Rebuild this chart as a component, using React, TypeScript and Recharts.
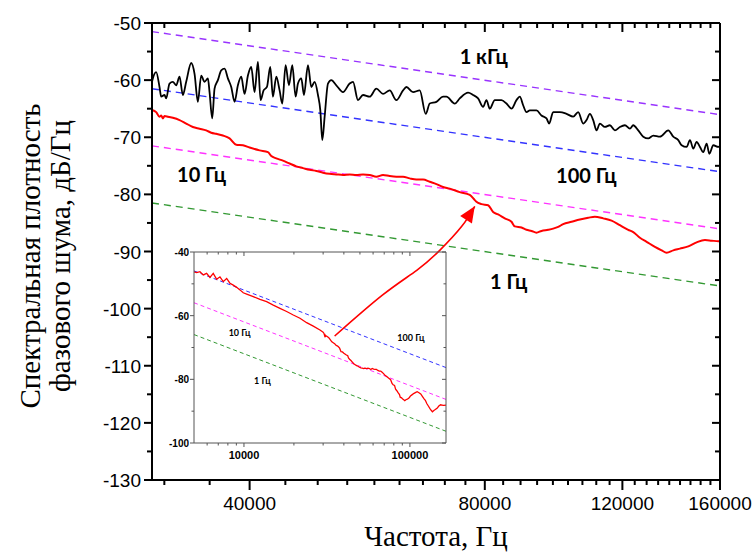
import React from 'react';
import { LineChart, Line, XAxis, YAxis, ReferenceDot, Label } from 'recharts';

type Pt = [number, number];

// ---------- tick values ----------
const mainXMajor = [40000, 80000, 120000, 160000];
const mainXMinor = [31111, 35556, 44444, 48889, 53333, 57778, 62222, 66667, 71111, 75556, 84444, 88889, 93333, 97778, 102222, 106667, 111111, 115556, 124444, 128889, 133333, 137778, 142222, 146667, 151111, 155556];
const mainYMajor = [-130, -120, -110, -100, -90, -80, -70, -60, -50];
const mainYMinor = [-125, -115, -105, -95, -85, -75, -65, -55];
const insetXMajor = [10000, 100000];
const insetXMinor = [6000, 7000, 8000, 9000, 20000, 30000, 40000, 50000, 60000, 70000, 80000, 90000];
const insetYMajor = [-100, -80, -60, -40];
const insetYMinor = [-90, -70, -50];

// ---------- measured phase-noise (black, 1 kHz region) ----------
const blackNoise: Pt[] = [
  [30000, -60.3], [30074, -59.7], [30371, -58.6], [30671, -61.2], [30823, -62.9], [31127, -62.6], [31281, -63.2],
  [31589, -60.6], [31901, -60.3], [32217, -60.9], [32535, -59.4], [32856, -62.6], [33181, -60.3], [33674, -57.0],
  [34007, -58.9], [34342, -63.8], [34682, -59.2], [35025, -60.3], [35371, -59.7], [35545, -62.1], [35826, -66.7],
  [36073, -61.5], [36429, -60.0], [36790, -58.3], [37153, -58.0], [37520, -59.7], [37891, -61.2], [38265, -63.8],
  [38643, -60.9], [39026, -59.4], [39411, -62.4], [39800, -59.2], [40194, -57.7], [40590, -62.1], [40991, -56.8],
  [41315, -63.5], [41682, -61.8], [42094, -61.2], [42510, -57.7], [42845, -62.9], [43270, -59.4], [43697, -61.8],
  [44042, -64.1], [44477, -57.4], [44916, -60.9], [45361, -57.4], [45809, -62.9], [46124, -60.6], [46581, -59.7],
  [46948, -62.6], [47505, -57.4], [47975, -61.2], [48449, -60.3], [48927, -62.6], [49266, -65.3], [49558, -70.5],
  [49900, -66.4], [50392, -60.6], [50891, -60.0], [51647, -60.9], [52672, -62.1], [53718, -60.6], [54248, -60.3],
  [55055, -63.5], [55872, -62.6], [56983, -62.9], [58115, -61.5], [59268, -62.4], [60445, -61.8], [61646, -63.5],
  [62869, -61.8], [63492, -61.2], [64752, -62.1], [66038, -61.8], [67217, -65.9], [68015, -64.1], [69366, -63.8],
  [70742, -62.9], [71442, -62.9], [73219, -64.1], [74307, -63.2], [76155, -62.2], [77287, -62.6], [78435, -63.2],
  [79600, -64.7], [80389, -63.5], [81183, -65.0], [82388, -63.5], [84025, -63.5], [85274, -64.1], [86541, -65.0],
  [87827, -63.5], [88693, -62.9], [89569, -64.4], [90455, -65.6], [91348, -65.3], [93163, -65.3], [94547, -66.2],
  [95952, -66.7], [96708, -67.6], [97856, -65.6], [99800, -65.6], [101783, -65.9], [103801, -66.4], [105344, -65.6],
  [106910, -67.6], [107967, -67.0], [109033, -65.9], [110109, -67.0], [111200, -68.8], [112297, -67.6], [113966, -68.2],
  [115659, -67.9], [117377, -68.8], [119121, -68.2], [120891, -67.9], [122688, -68.5], [123898, -67.9], [125740, -68.8],
  [127608, -69.9], [129505, -70.2], [131428, -69.7], [134040, -69.9], [137375, -68.8], [139415, -69.9], [141487, -70.5],
  [142888, -71.4], [145011, -71.7], [146443, -70.5], [147888, -72.0], [149353, -70.8], [150827, -71.7], [152315, -72.6],
  [153824, -71.1], [155036, -72.9], [156875, -71.4], [159207, -71.7], [160000, -71.6],
];

// ---------- measured phase-noise (red) ----------
const redNoise: Pt[] = [
  [30000, -65.2], [30371, -65.6], [30671, -66.4], [30823, -66.2], [30974, -66.7], [31127, -66.3], [31434, -66.4],
  [31901, -66.6], [32535, -67.0], [33181, -67.6], [33839, -68.2], [34512, -68.5], [35198, -68.8], [35721, -69.2],
  [36251, -69.4], [36971, -69.7], [37706, -70.2], [38454, -71.3], [39217, -71.4], [40000, -71.8], [41193, -72.3],
  [42218, -72.6], [42636, -73.3], [43270, -73.7], [44128, -74.1], [45005, -74.6], [45899, -75.1], [46810, -75.4],
  [47740, -75.7], [48688, -75.9], [49655, -76.2], [50641, -76.4], [51647, -76.5], [52672, -76.6], [53718, -76.5],
  [54785, -76.6], [55872, -76.5], [56983, -76.6], [58115, -76.9], [59268, -76.6], [60445, -76.8], [61646, -76.9],
  [62869, -76.9], [64118, -77.2], [65392, -77.4], [66690, -77.4], [68015, -77.8], [69366, -78.2], [70742, -78.7],
  [72148, -79.0], [74307, -79.6], [76531, -80.1], [77669, -81.0], [78053, -81.3], [79212, -81.7], [80784, -81.9],
  [81983, -83.1], [83202, -83.5], [84854, -84.2], [86541, -84.8], [87395, -85.6], [89131, -85.8], [90455, -86.2],
  [91799, -86.4], [93163, -86.7], [94547, -86.4], [96423, -86.2], [97856, -86.0], [99310, -85.7], [100786, -85.2],
  [103295, -84.8], [105865, -84.4], [108497, -84.1], [110654, -83.9], [113407, -84.2], [116231, -84.6], [119121, -85.4],
  [122084, -86.2], [123898, -86.6], [126360, -87.6], [128870, -88.3], [132077, -89.2], [134701, -89.8], [136703, -90.2],
  [139415, -89.8], [142184, -89.5], [145721, -89.1], [149353, -88.4], [153070, -88.0], [156110, -88.1], [159207, -88.2],
  [160000, -88.2],
];

// low-frequency part of the red curve (inset only)
const redLow: Pt[] = [
  [5000, -46.2], [5188, -46.5], [5431, -46.2], [5685, -47.2], [5958, -46.7], [6239, -48.0], [6531, -46.7],
  [6847, -48.6], [7168, -47.8], [7503, -49.3], [7867, -48.3], [8234, -49.8], [8620, -50.4], [9037, -51.1],
  [9460, -51.9], [9903, -52.8], [10382, -53.2], [11376, -54.0], [12487, -54.9], [13700, -55.6], [15017, -56.7],
  [16479, -57.7], [18083, -58.7], [19824, -59.8], [21748, -60.8], [23867, -62.2], [26162, -63.3], [28708, -64.5],
];
const redTail: Pt[] = [[165000, -88.1]];

// ---------- reference noise levels (dashed) ----------
const level1kHz: Pt[] = [[30000, -51.5], [160000, -66.04]];
const level100Hz: Pt[] = [[30000, -61.5], [160000, -76.04]];
const level10Hz: Pt[] = [[30000, -71.5], [160000, -86.04]];
const level1Hz: Pt[] = [[30000, -81.5], [160000, -96.04]];
const insetLevel100Hz: Pt[] = [[5000, -45.94], [165000, -76.31]];
const insetLevel10Hz: Pt[] = [[5000, -55.94], [165000, -86.31]];
const insetLevel1Hz: Pt[] = [[5000, -65.94], [165000, -96.31]];

// arrow from inset to the main red curve (data coordinates of main chart)
const arrowPath: Pt[] = [[51395, -104.8], [59210, -97.6], [65456, -93.3], [70050, -89.8], [74746, -85.6], [77669, -82.1]];

// annotation labels [freq, level, text]
const mainNotes: [number, number, string][] = [
  [79758, -57.1, '1 кГц'], [107914, -78.0, '100 Гц'], [34716, -77.8, '10 Гц'], [85861, -96.5, '1 Гц'],
];
const insetNotes: [number, number, string][] = [
  [9421, -66.4, '10 Гц'], [101468, -67.9, '100 Гц'], [12925, -81.6, '1 Гц'],
];

const rows = (pts: Pt[]) => pts.map(([f, v]) => ({ f, v }));

const SANS = '"Liberation Sans", Arial, sans-serif';
const SERIF = '"Liberation Serif", "Times New Roman", serif';
const NOTE = 'Lato, "Open Sans", sans-serif';

const COL = {
  purple: '#9933ff',
  blue: '#3333ff',
  magenta: '#ff33ff',
  green: '#339933',
  red: '#ff0000',
};

// ---------- main axis ticks ----------
const MainBottomTick = (props: any) => {
  const { x, y, payload } = props;
  const major = mainXMajor.includes(payload.value);
  return (
    <g>
      <line x1={x} x2={x} y1={y} y2={y + (major ? 10 : 5)} stroke="#000" strokeWidth={2} />
      {major && (
        <text x={x} y={y + 30} textAnchor="middle" fontFamily={SANS} fontSize={19} fill="#000">
          {String(payload.value)}
        </text>
      )}
    </g>
  );
};
const MainTopTick = (props: any) => {
  const { x, y, payload } = props;
  const major = mainXMajor.includes(payload.value);
  return <line x1={x} x2={x} y1={y} y2={y + (major ? 9 : 5)} stroke="#000" strokeWidth={2} />;
};
const MainLeftTick = (props: any) => {
  const { x, y, payload } = props;
  const major = mainYMajor.includes(payload.value);
  return (
    <g>
      <line x1={x} x2={x - (major ? 8 : 5)} y1={y} y2={y} stroke="#000" strokeWidth={2} />
      {major && (
        <text x={x - 11} y={y + 7} textAnchor="end" fontFamily={SANS} fontSize={19} fill="#000">
          {String(payload.value)}
        </text>
      )}
    </g>
  );
};
const MainRightTick = (props: any) => {
  const { x, y, payload } = props;
  const major = mainYMajor.includes(payload.value);
  return <line x1={x} x2={x - (major ? 8 : 5)} y1={y} y2={y} stroke="#000" strokeWidth={2} />;
};

// ---------- inset axis ticks ----------
const IC = '#555555';
const InsetBottomTick = (props: any) => {
  const { x, y, payload } = props;
  const major = insetXMajor.includes(payload.value);
  return (
    <g>
      <line x1={x} x2={x} y1={y} y2={y + (major ? 4 : 2.5)} stroke={IC} strokeWidth={1} />
      {major && (
        <text x={x} y={y + 16} textAnchor="middle" fontFamily={SANS} fontWeight="bold" fontSize={11} fill="#000">
          {String(payload.value)}
        </text>
      )}
    </g>
  );
};
const InsetTopTick = (props: any) => {
  const { x, y, payload } = props;
  const major = insetXMajor.includes(payload.value);
  return <line x1={x} x2={x} y1={y} y2={y + (major ? 4 : 2.5)} stroke={IC} strokeWidth={1} />;
};
const InsetLeftTick = (props: any) => {
  const { x, y, payload } = props;
  const major = insetYMajor.includes(payload.value);
  return (
    <g>
      <line x1={x} x2={x - (major ? 4 : 2.5)} y1={y} y2={y} stroke={IC} strokeWidth={1} />
      {major && (
        <text x={x - 5} y={y + 4} textAnchor="end" fontFamily={SANS} fontWeight="bold" fontSize={10} fill="#000">
          {String(payload.value)}
        </text>
      )}
    </g>
  );
};
const InsetRightTick = (props: any) => {
  const { x, y, payload } = props;
  const major = insetYMajor.includes(payload.value);
  return <line x1={x} x2={x - (major ? 4 : 2.5)} y1={y} y2={y} stroke={IC} strokeWidth={1} />;
};

const ArrowHead = (props: any) => {
  const { cx, cy, index, points } = props;
  const last = arrowPath.length - 1;
  if (index !== last || cx == null || cy == null) return <g key={`ah-${index}`} />;
  let ang = (-60 * Math.PI) / 180;
  if (points && points[last - 1] && points[last - 1].x != null) {
    const p = points[last - 1];
    ang = Math.atan2(cy - p.y, cx - p.x);
  }
  const len = 16;
  const half = 7;
  const bx = cx - len * Math.cos(ang);
  const by = cy - len * Math.sin(ang);
  const nx = -Math.sin(ang);
  const ny = Math.cos(ang);
  return (
    <polygon
      key={`ah-${index}`}
      points={`${cx},${cy} ${bx + half * nx},${by + half * ny} ${bx - half * nx},${by - half * ny}`}
      fill={COL.red}
    />
  );
};

const noteShape = (text: string, size: number) => (p: any) => (
  <text x={p.cx} y={p.cy} textAnchor="middle" fontFamily={NOTE} fontWeight="bold" fontSize={size} fill="#000">
    {text}
  </text>
);

const MainChart = () => (
  <LineChart width={753} height={553} margin={{ top: 0, right: 0, bottom: 0, left: 0 }}>
    <XAxis
      xAxisId="b"
      type="number"
      dataKey="f"
      scale="log"
      domain={[30000, 160000]}
      allowDataOverflow
      ticks={[...mainXMajor, ...mainXMinor]}
      interval={0}
      tickSize={0}
      tickMargin={0}
      tickLine={false}
      height={73}
      axisLine={{ stroke: '#000', strokeWidth: 2 }}
      tick={<MainBottomTick />}
    >
      <Label
        content={() => (
          <text x={436} y={546} textAnchor="middle" fontFamily={SERIF} fontSize={29} fill="#000">
            Частота, Гц
          </text>
        )}
      />
    </XAxis>
    <XAxis
      xAxisId="t"
      orientation="top"
      type="number"
      dataKey="f"
      scale="log"
      domain={[30000, 160000]}
      allowDataOverflow
      ticks={[...mainXMajor, ...mainXMinor]}
      interval={0}
      tickSize={0}
      tickMargin={0}
      tickLine={false}
      height={23}
      axisLine={{ stroke: '#000', strokeWidth: 2 }}
      tick={<MainTopTick />}
    />
    <YAxis
      yAxisId="l"
      type="number"
      domain={[-130, -50]}
      allowDataOverflow
      ticks={[...mainYMajor, ...mainYMinor]}
      interval={0}
      tickSize={0}
      tickMargin={0}
      tickLine={false}
      width={152}
      axisLine={{ stroke: '#000', strokeWidth: 2 }}
      tick={<MainLeftTick />}
    >
      <Label
        content={() => (
          <g>
            <text transform="translate(40,256) rotate(-90)" textAnchor="middle" fontFamily={SERIF} fontSize={29} fill="#000">
              Спектральная плотность
            </text>
            <text transform="translate(70,256) rotate(-90)" textAnchor="middle" fontFamily={SERIF} fontSize={29} fill="#000">
              фазового шума, дБ/Гц
            </text>
          </g>
        )}
      />
    </YAxis>
    <YAxis
      yAxisId="r"
      orientation="right"
      type="number"
      domain={[-130, -50]}
      allowDataOverflow
      ticks={[...mainYMajor, ...mainYMinor]}
      interval={0}
      tickSize={0}
      tickMargin={0}
      tickLine={false}
      width={33}
      axisLine={{ stroke: '#000', strokeWidth: 2 }}
      tick={<MainRightTick />}
    />
    <Line xAxisId="b" yAxisId="l" data={rows(level1kHz)} dataKey="v" stroke={COL.purple} strokeWidth={1.4} strokeDasharray="7 5" dot={false} isAnimationActive={false} />
    <Line xAxisId="b" yAxisId="l" data={rows(level100Hz)} dataKey="v" stroke={COL.blue} strokeWidth={1.4} strokeDasharray="7 5" dot={false} isAnimationActive={false} />
    <Line xAxisId="b" yAxisId="l" data={rows(level10Hz)} dataKey="v" stroke={COL.magenta} strokeWidth={1.4} strokeDasharray="7 5" dot={false} isAnimationActive={false} />
    <Line xAxisId="b" yAxisId="l" data={rows(level1Hz)} dataKey="v" stroke={COL.green} strokeWidth={1.4} strokeDasharray="7 5" dot={false} isAnimationActive={false} />
    <Line xAxisId="b" yAxisId="l" data={rows(blackNoise)} dataKey="v" stroke="#000" strokeWidth={1.8} dot={false} type="monotone" isAnimationActive={false} />
    <Line xAxisId="b" yAxisId="l" data={rows(redNoise)} dataKey="v" stroke={COL.red} strokeWidth={2} dot={false} type="monotone" isAnimationActive={false} />
    <Line xAxisId="b" yAxisId="l" data={rows(arrowPath)} dataKey="v" stroke={COL.red} strokeWidth={1.6} type="natural" dot={ArrowHead} activeDot={false} isAnimationActive={false} />
    {mainNotes.map(([f, v, t]) => (
      <ReferenceDot key={t} xAxisId="b" yAxisId="l" x={f} y={v} r={0} shape={noteShape(t, 20)} />
    ))}
  </LineChart>
);

const InsetChart = () => (
  <LineChart width={310} height={235} margin={{ top: 0, right: 0, bottom: 0, left: 0 }}>
    <XAxis
      xAxisId="b"
      type="number"
      dataKey="f"
      scale="log"
      domain={[5000, 165000]}
      allowDataOverflow
      ticks={[...insetXMajor, ...insetXMinor]}
      interval={0}
      tickSize={0}
      tickMargin={0}
      tickLine={false}
      height={32}
      axisLine={{ stroke: IC, strokeWidth: 1 }}
      tick={<InsetBottomTick />}
    />
    <XAxis
      xAxisId="t"
      orientation="top"
      type="number"
      dataKey="f"
      scale="log"
      domain={[5000, 165000]}
      allowDataOverflow
      ticks={[...insetXMajor, ...insetXMinor]}
      interval={0}
      tickSize={0}
      tickMargin={0}
      tickLine={false}
      height={12}
      axisLine={{ stroke: IC, strokeWidth: 1 }}
      tick={<InsetTopTick />}
    />
    <YAxis
      yAxisId="l"
      type="number"
      domain={[-100, -40]}
      allowDataOverflow
      ticks={[...insetYMajor, ...insetYMinor]}
      interval={0}
      tickSize={0}
      tickMargin={0}
      tickLine={false}
      width={44}
      axisLine={{ stroke: IC, strokeWidth: 1 }}
      tick={<InsetLeftTick />}
    />
    <YAxis
      yAxisId="r"
      orientation="right"
      type="number"
      domain={[-100, -40]}
      allowDataOverflow
      ticks={[...insetYMajor, ...insetYMinor]}
      interval={0}
      tickSize={0}
      tickMargin={0}
      tickLine={false}
      width={14}
      axisLine={{ stroke: IC, strokeWidth: 1 }}
      tick={<InsetRightTick />}
    />
    <Line xAxisId="b" yAxisId="l" data={rows(insetLevel100Hz)} dataKey="v" stroke={COL.blue} strokeWidth={1} strokeDasharray="4 3" dot={false} isAnimationActive={false} />
    <Line xAxisId="b" yAxisId="l" data={rows(insetLevel10Hz)} dataKey="v" stroke={COL.magenta} strokeWidth={1} strokeDasharray="4 3" dot={false} isAnimationActive={false} />
    <Line xAxisId="b" yAxisId="l" data={rows(insetLevel1Hz)} dataKey="v" stroke={COL.green} strokeWidth={1} strokeDasharray="4 3" dot={false} isAnimationActive={false} />
    <Line xAxisId="b" yAxisId="l" data={rows([...redLow, ...redNoise, ...redTail])} dataKey="v" stroke={COL.red} strokeWidth={1.3} dot={false} type="linear" isAnimationActive={false} />
    {insetNotes.map(([f, v, t]) => (
      <ReferenceDot key={t} xAxisId="b" yAxisId="l" x={f} y={v} r={0} shape={noteShape(t, 9)} />
    ))}
  </LineChart>
);

export default function App() {
  return (
    <div style={{ position: 'absolute', left: 0, top: 0, width: 753, height: 553, background: '#fff' }}>
      <div style={{ position: 'absolute', left: 0, top: 0 }}>
        <MainChart />
      </div>
      <div style={{ position: 'absolute', left: 150, top: 240 }}>
        <InsetChart />
      </div>
    </div>
  );
}
